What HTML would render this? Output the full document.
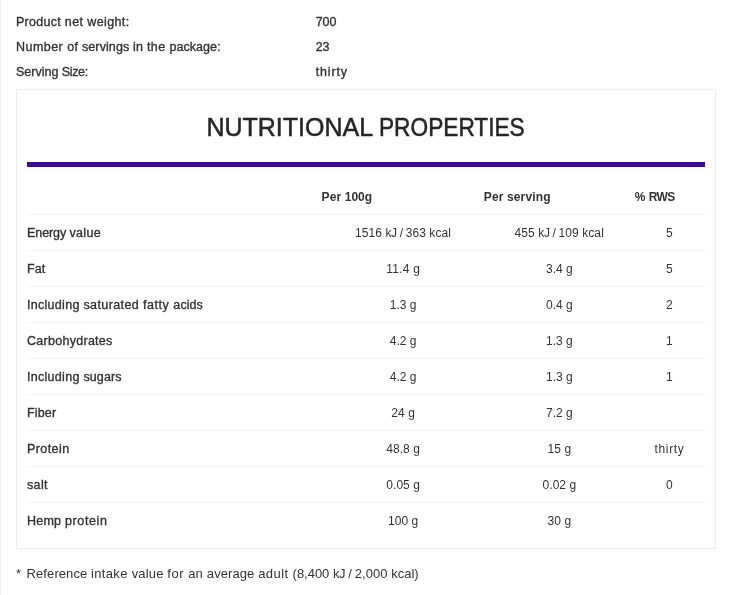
<!DOCTYPE html>
<html lang="en">
<head>
<meta charset="utf-8">
<title>Nutritional properties</title>
<style>
html,body{margin:0;padding:0;background:#fff;}
body{width:735px;height:595px;overflow:hidden;position:relative;font-family:"Liberation Sans",sans-serif;color:#333;font-size:12px;}
.edge{position:absolute;left:0;top:0;width:1px;height:595px;background:#eee;}
.info{position:absolute;left:16px;top:9.5px;width:600px;}
.info div{position:relative;height:25px;line-height:25px;white-space:nowrap;font-size:12.5px;-webkit-text-stroke:0.35px #333;}
.info .v{position:absolute;left:299.75px;top:0;}
.box{position:absolute;left:16px;top:89px;width:698px;height:458px;border:1px solid #ededed;}
h2{position:absolute;left:189.4px;top:18.5px;margin:0;text-align:left;word-spacing:-0.45px;font-weight:normal;font-size:25px;line-height:36px;color:#262626;-webkit-text-stroke:0.5px #262626;white-space:nowrap;}
.w2{display:inline-block;transform:scaleX(0.907);transform-origin:0 50%;}
.bar{position:absolute;left:10px;top:72px;width:678px;height:5px;background:#3b0f8c;}
.row{position:absolute;left:10px;width:678px;height:35px;line-height:37px;border-top:1px solid #f1f1f1;white-space:nowrap;}
.row.head{border-top:0;font-weight:bold;}
.row div{position:absolute;top:0;height:35px;text-align:center;}
.row .c1{left:0;width:295px;text-align:left;font-size:12.5px;-webkit-text-stroke:0.35px #333;}
.row .c2{left:295px;width:161px;}
.row .c3{left:456px;width:151px;}
.row .c4{left:607px;width:71px;}
.row.head div{text-align:left;}
.row div>span{position:relative;}
.row .c2>span{left:0.5px;}
.row .c3>span{left:0.75px;}
.row.head .c2>span{left:-0.5px;}
.row.head .c3>span{left:0.75px;}
.row.head .c4>span{left:0.75px;}
.foot{position:absolute;left:16px;top:563px;font-size:13px;line-height:22px;white-space:nowrap;}
</style>
</head>
<body>
<div class="edge"></div>
<div class="info">
<div><span class="k"><span style="letter-spacing:0.28px">Product </span><span style="letter-spacing:0.39px">net </span><span style="letter-spacing:0.39px">weight:</span></span> <span class="v"><span style="letter-spacing:-0.09px">700</span></span></div>
<div><span class="k"><span style="letter-spacing:0.46px">Number </span><span style="letter-spacing:0.3px">of </span><span style="letter-spacing:0.1px">servings </span><span style="letter-spacing:0.3px">in </span><span style="letter-spacing:0.39px">the </span><span style="letter-spacing:0.04px">package:</span></span> <span class="v"><span style="letter-spacing:-0.09px">23</span></span></div>
<div><span class="k">Serving <span style="letter-spacing:-0.38px">Size:</span></span> <span class="v"><span style="letter-spacing:0.83px">thirty</span></span></div>
</div>
<div class="box">
<h2>NUTRITIONAL <span class="w2">PROPERTIES</span></h2>
<div class="bar"></div>
<div class="row head" style="top:89px"><div class="c1"></div><div class="c2"><span><span style="letter-spacing:0.13px">Per </span>100g</span></div><div class="c3"><span><span style="letter-spacing:0.13px">Per </span><span style="letter-spacing:0.14px">serving</span></span></div><div class="c4"><span><span style="letter-spacing:-0.04px">% </span><span style="letter-spacing:-0.55px">RWS</span></span></div></div>
<div class="row" style="top:124px"><div class="c1"><span><span style="letter-spacing:-0.07px">Energy </span><span style="letter-spacing:0.28px">value</span></span></div><div class="c2"><span><span style="letter-spacing:0.11px">1516 </span><span style="letter-spacing:-0.37px">kJ / </span><span style="letter-spacing:0.09px">363 </span><span style="letter-spacing:0.1px">kcal</span></span></div><div class="c3"><span><span style="letter-spacing:0.09px">455 </span><span style="letter-spacing:-0.37px">kJ / </span><span style="letter-spacing:0.09px">109 </span><span style="letter-spacing:0.1px">kcal</span></span></div><div class="c4"><span><span style="letter-spacing:0.19px">5</span></span></div></div>
<div class="row" style="top:160px"><div class="c1"><span><span style="letter-spacing:0.02px">Fat</span></span></div><div class="c2"><span><span style="letter-spacing:0.21px">11.4 </span><span style="letter-spacing:-0.17px">g</span></span></div><div class="c3"><span>3.4 <span style="letter-spacing:-0.17px">g</span></span></div><div class="c4"><span><span style="letter-spacing:0.19px">5</span></span></div></div>
<div class="row" style="top:196px"><div class="c1"><span><span style="letter-spacing:0.29px">Including </span><span style="letter-spacing:0.4px">saturated </span><span style="letter-spacing:0.54px">fatty </span><span style="letter-spacing:0.08px">acids</span></span></div><div class="c2"><span>1.3 <span style="letter-spacing:-0.17px">g</span></span></div><div class="c3"><span>0.4 <span style="letter-spacing:-0.17px">g</span></span></div><div class="c4"><span><span style="letter-spacing:0.19px">2</span></span></div></div>
<div class="row" style="top:232px"><div class="c1"><span><span style="letter-spacing:0.28px">Carbohydrates</span></span></div><div class="c2"><span>4.2 <span style="letter-spacing:-0.17px">g</span></span></div><div class="c3"><span>1.3 <span style="letter-spacing:-0.17px">g</span></span></div><div class="c4"><span><span style="letter-spacing:0.19px">1</span></span></div></div>
<div class="row" style="top:268px"><div class="c1"><span><span style="letter-spacing:0.29px">Including </span><span style="letter-spacing:0.1px">sugars</span></span></div><div class="c2"><span>4.2 <span style="letter-spacing:-0.17px">g</span></span></div><div class="c3"><span>1.3 <span style="letter-spacing:-0.17px">g</span></span></div><div class="c4"><span><span style="letter-spacing:0.19px">1</span></span></div></div>
<div class="row" style="top:304px"><div class="c1"><span><span style="letter-spacing:0.17px">Fiber</span></span></div><div class="c2"><span><span style="letter-spacing:0.05px">24 </span><span style="letter-spacing:-0.17px">g</span></span></div><div class="c3"><span>7.2 <span style="letter-spacing:-0.17px">g</span></span></div><div class="c4"><span></span></div></div>
<div class="row" style="top:340px"><div class="c1"><span><span style="letter-spacing:0.42px">Protein</span></span></div><div class="c2"><span><span style="letter-spacing:0.03px">48.8 </span><span style="letter-spacing:-0.17px">g</span></span></div><div class="c3"><span><span style="letter-spacing:0.05px">15 </span><span style="letter-spacing:-0.17px">g</span></span></div><div class="c4"><span><span style="letter-spacing:0.64px">thirty</span></span></div></div>
<div class="row" style="top:376px"><div class="c1"><span><span style="letter-spacing:0.36px">salt</span></span></div><div class="c2"><span><span style="letter-spacing:0.03px">0.05 </span><span style="letter-spacing:-0.17px">g</span></span></div><div class="c3"><span><span style="letter-spacing:0.03px">0.02 </span><span style="letter-spacing:-0.17px">g</span></span></div><div class="c4"><span><span style="letter-spacing:0.19px">0</span></span></div></div>
<div class="row" style="top:412px"><div class="c1"><span><span style="letter-spacing:0.23px">Hemp </span><span style="letter-spacing:0.62px">protein</span></span></div><div class="c2"><span><span style="letter-spacing:0.09px">100 </span><span style="letter-spacing:-0.17px">g</span></span></div><div class="c3"><span><span style="letter-spacing:0.05px">30 </span><span style="letter-spacing:-0.17px">g</span></span></div><div class="c4"><span></span></div></div>
</div>
<div class="foot"><span style="letter-spacing:0.94px">* </span><span style="letter-spacing:0.09px">Reference </span><span style="letter-spacing:0.33px">intake </span><span style="letter-spacing:0.16px">value </span><span style="letter-spacing:0.52px">for </span><span style="letter-spacing:0.17px">an </span><span style="letter-spacing:0.09px">average </span><span style="letter-spacing:0.44px">adult </span><span style="letter-spacing:-0.02px">(8,400 </span><span style="letter-spacing:-0.4px">kJ / </span><span style="letter-spacing:0.05px">2,000 </span>kcal)</div>
</body>
</html>
